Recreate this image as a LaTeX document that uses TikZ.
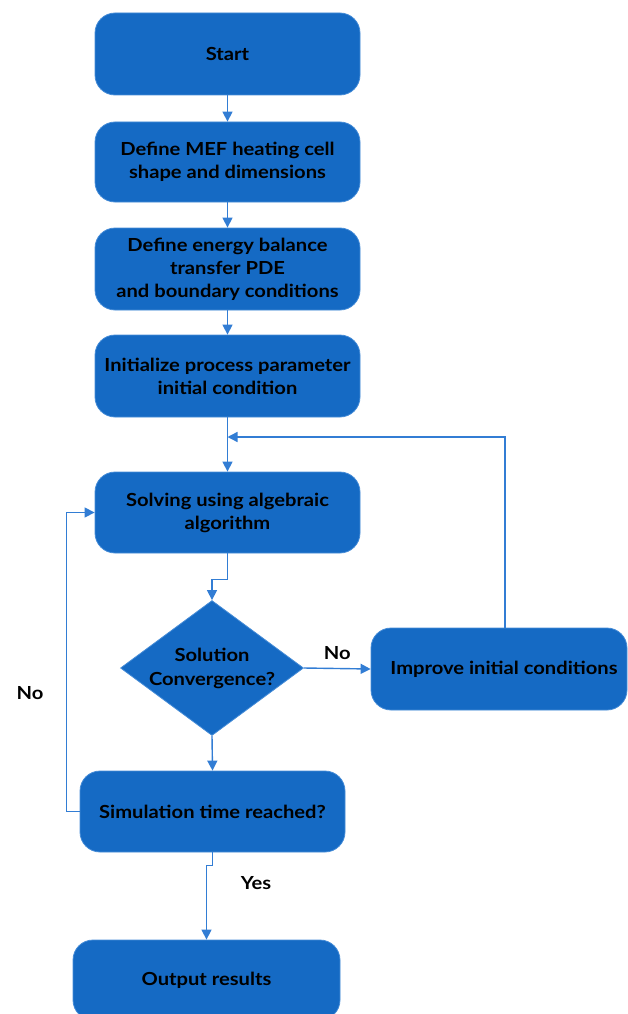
\documentclass[tikz,border=0pt]{standalone}
\usepackage{fontspec}
\setmainfont{Lato}[FakeStretch=1.12]
\usetikzlibrary{shapes.geometric,arrows.meta}
\definecolor{boxblue}{RGB}{21,106,196}
\definecolor{edgeblue}{RGB}{70,140,215}
\definecolor{lineblue}{RGB}{50,125,212}
\tikzset{
  box/.style={rectangle, rounded corners=20pt, fill=boxblue, draw=edgeblue, line width=0.8pt,
    align=center, font=\fontsize{18}{23}\selectfont\bfseries, text=black, inner sep=0pt},
  dia/.style={diamond, fill=boxblue, draw=edgeblue, line width=0.8pt, inner sep=0pt},
  txt/.style={align=center, font=\fontsize{18}{24}\selectfont\bfseries, text=black, inner sep=0pt},
  arr/.style={draw=lineblue, line width=1.4pt, -{Triangle[length=10pt,width=10pt]}},
  ln/.style={draw=lineblue, line width=1.4pt}
}
\begin{document}
\begin{tikzpicture}[x=1pt,y=-1pt]
\useasboundingbox (0,0) rectangle (627,1014);
\node[box, minimum width=265pt, minimum height=82pt] (start) at (227.5,54) {Start};
\node[box, minimum width=265pt, minimum height=80pt] (mef) at (227.5,162) {Define MEF heating cell\\shape and dimensions};
\node[box, minimum width=265pt, minimum height=82pt] (pde) at (227.5,269) {Define energy balance\\transfer PDE\\and boundary conditions};
\node[box, minimum width=265pt, minimum height=82pt] (init) at (227.5,376) {Initialize process parameter\\initial condition};
\node[box, minimum width=265pt, minimum height=81pt] (solve) at (227.5,512.5) {Solving using algebraic\\algorithm};
\node[dia, minimum width=183pt, minimum height=135pt] (conv) at (212,668) {};
\node[txt] (convt) at (212,668) {Solution\\Convergence?};
\node[box, minimum width=256pt, minimum height=82pt] (improve) at (499,669) {\hspace*{10pt}Improve initial conditions};
\node[box, minimum width=265pt, minimum height=81pt] (sim) at (212.5,811.5) {Simulation time reached?};
\node[box, minimum width=267pt, minimum height=80pt] (out) at (206.5,980) {Output results};
\coordinate (join) at (227.5,437);
\draw[arr] (start) -- (mef);
\draw[arr] (mef) -- (pde);
\draw[arr] (pde) -- (init);
\draw[arr] (init) -- (solve);
\draw[arr] ([xshift=6pt]improve.north) |- (join);
\draw[arr] (solve.south) -- ++(0,26) -| (conv.north);
\draw[arr] (conv.east) -- node[txt, above=8pt] (nolab1) {No} (improve.west);
\draw[arr] (conv.south) -- (sim.north);
\draw[arr] (sim.west) -- ++(-13,0) |- (solve.west);
\node[txt] (nolab2) at (30,693) {No};
\draw[arr] (sim.south) -- ++(0,13) -| (out.north);
\node[txt] (yeslab) at (256,883) {Yes};
\end{tikzpicture}
\end{document}
